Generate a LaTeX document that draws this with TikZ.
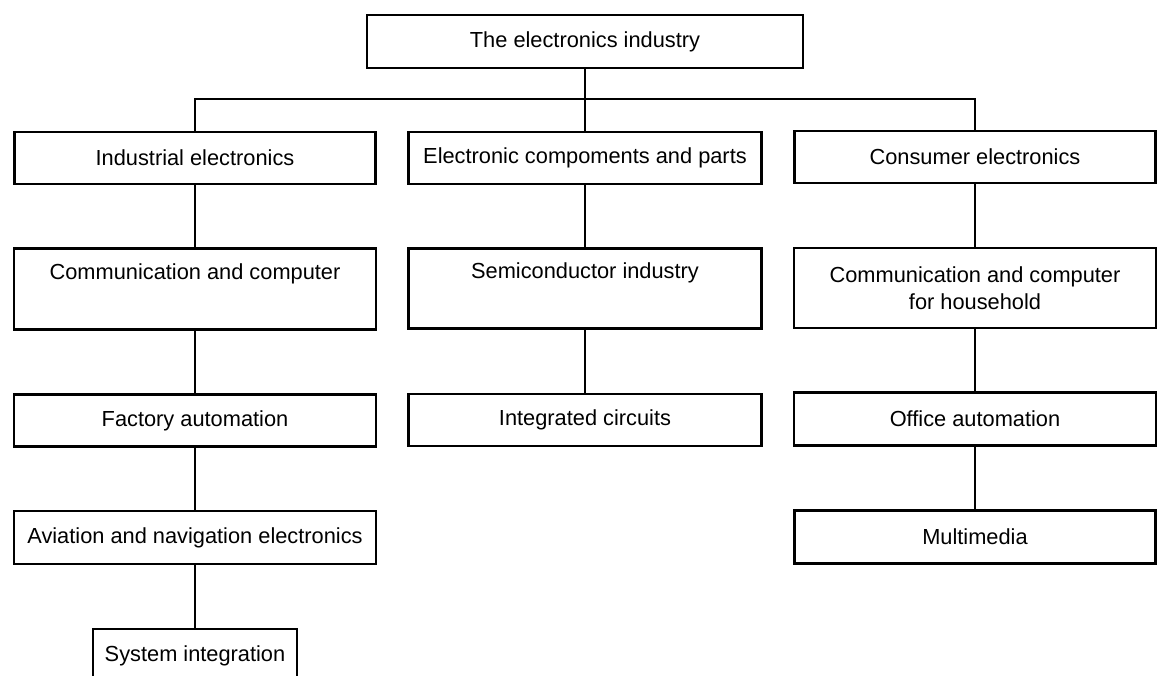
\documentclass[tikz,border=0pt]{standalone}
\usepackage{fontspec}
\setmainfont{Liberation Sans}
\begin{document}
\begin{tikzpicture}[x=1pt,y=-1pt,
  box/.style={draw, line width=2.1pt, rectangle, inner sep=0pt, align=center,
    font=\fontsize{21.8}{27.5}\selectfont},
  link/.style={line width=2.1pt}]
\useasboundingbox (0,0) rectangle (1162,676);
\clip (0,0) rectangle (1162,676);
\fill[white] (0,0) rectangle (1162,676);
% level 0
\node[box, minimum width=436pt, minimum height=53pt] (top) at (585,41.5) {The electronics industry};
% level 1
\node[box, minimum width=361pt, minimum height=52pt] (ie) at (195,158) {Industrial electronics};
\node[box, minimum width=353pt, minimum height=52pt] (ec) at (585,158) {Electronic compoments and parts};
\node[box, minimum width=361pt, minimum height=52pt] (ce) at (975,157) {Consumer electronics};
% level 2
\node[box, minimum width=362pt, minimum height=81pt] (cc) at (195,289) {Communication and computer\\ \strut};
\node[box, minimum width=353pt, minimum height=80pt] (si) at (585,288.5) {Semiconductor industry\\ \strut};
\node[box, minimum width=362pt, minimum height=80pt] (cch) at (975,288) {Communication and computer\\for household};
% level 3
\node[box, minimum width=362pt, minimum height=52pt] (fa) at (195,420.5) {Factory automation};
\node[box, minimum width=353pt, minimum height=52pt] (ic) at (585,420) {Integrated circuits};
\node[box, minimum width=362pt, minimum height=53pt] (oa) at (975,419) {Office automation};
% level 4
\node[box, minimum width=362pt, minimum height=53pt] (av) at (195,537.5) {Aviation and navigation electronics};
\node[box, minimum width=361pt, minimum height=53pt] (mm) at (975,537) {Multimedia};
% level 5
\node[box, minimum width=204pt, minimum height=53pt] (sys) at (195,655.5) {System integration};
% connectors
\coordinate (bus) at (585,99);
\draw[link] (top.south) -- (ec.north);
\draw[link] (ie.north) |- (bus) -| (ce.north);
\draw[link] (ie.south) -- (cc.north);
\draw[link] (cc.south) -- (fa.north);
\draw[link] (fa.south) -- (av.north);
\draw[link] (av.south) -- (sys.north);
\draw[link] (ec.south) -- (si.north);
\draw[link] (si.south) -- (ic.north);
\draw[link] (ce.south) -- (cch.north);
\draw[link] (cch.south) -- (oa.north);
\draw[link] (oa.south) -- (mm.north);
\end{tikzpicture}
\end{document}
